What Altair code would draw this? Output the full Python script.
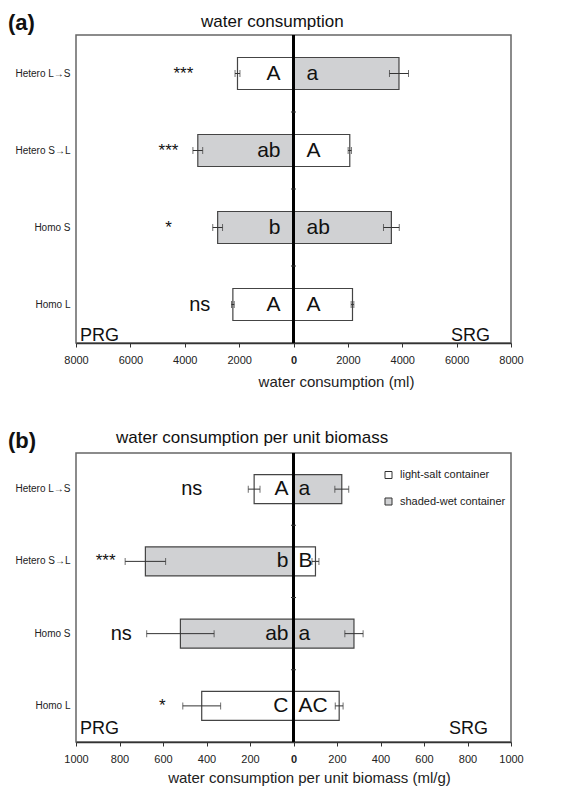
import altair as alt
import pandas as pd

FONT = "Liberation Sans"

groups = ["Hetero L→S", "Hetero S→L", "Homo S", "Homo L"]
containers = ["light-salt container", "shaded-wet container"]
prg_container = ["light-salt container", "shaded-wet container", "shaded-wet container", "light-salt container"]
srg_container = ["shaded-wet container", "light-salt container", "shaded-wet container", "light-salt container"]
sides = ["PRG", "SRG"]

# panel (a): water consumption (ml)
a_prg_mean = [2060, 3520, 2790, 2230]
a_prg_err = [90, 180, 180, 50]
a_srg_mean = [3880, 2070, 3600, 2170]
a_srg_err = [350, 60, 290, 50]
a_prg_letter = ["A", "ab", "b", "A"]
a_srg_letter = ["a", "A", "ab", "A"]
a_sig = ["***", "***", "*", "ns"]
a_sig_x = [4050, 4600, 4600, 3450]
a_ticks = [-8000, -6000, -4000, -2000, 0, 2000, 4000, 6000, 8000]

# panel (b): water consumption per unit biomass (ml/g)
b_prg_mean = [181, 681, 520, 422]
b_prg_err = [27, 93, 155, 87]
b_srg_mean = [222, 101, 278, 210]
b_srg_err = [32, 16, 42, 18]
b_prg_letter = ["A", "b", "ab", "C"]
b_srg_letter = ["a", "B", "a", "AC"]
b_sig = ["ns", "***", "ns", "*"]
b_sig_x = [468, 864, 792, 603]
b_ticks = [-1000, -800, -600, -400, -200, 0, 200, 400, 600, 800, 1000]


def long_table(pm, pe, sm, se, pl, sl):
    rows = []
    for i, g in enumerate(groups):
        rows.append(dict(group=g, side="PRG", value=-pm[i], lo=-(pm[i] + pe[i]),
                         hi=-(pm[i] - pe[i]), container=prg_container[i], letter=pl[i]))
        rows.append(dict(group=g, side="SRG", value=sm[i], lo=sm[i] - se[i],
                         hi=sm[i] + se[i], container=srg_container[i], letter=sl[i]))
    return pd.DataFrame(rows)


def sig_table(sig, sx):
    return pd.DataFrame({"group": groups, "sig": sig, "sig_x": [-v for v in sx]})


def panel(df, sdf, ticks, tag, title, title_x, title_y, xtitle, xtitle_x, xtitle_y,
          width, height, bar_size, letter_gap, side_y, srg_x, legend):
    xmax = max(ticks)
    step = height / len(groups)
    x_scale = alt.Scale(domain=[-xmax, xmax], nice=False, zero=False)
    x_axis = alt.Axis(
        values=ticks, labelExpr="format(abs(datum.value), 'd')", title=xtitle,
        grid=False, labelFlush=False, tickSize=4, tickColor="#333", tickWidth=1,
        domainColor="#333", domainWidth=1.5, labelFontSize=11, labelPadding=7,
        labelColor="#222",
        labelFontWeight=alt.condition("datum.value == 0", alt.value("bold"), alt.value("normal")),
        titleFontSize=15, titleFontWeight="normal", titleColor="#222",
        titleX=xtitle_x, titleY=xtitle_y, titleBaseline="alphabetic", titleAlign="center",
    )
    y_enc = alt.Y("group:N", sort=groups,
                  scale=alt.Scale(paddingInner=0, paddingOuter=0),
                  axis=alt.Axis(title=None, ticks=False, domain=False, labelFontSize=10,
                                labelPadding=6, labelColor="#222"))
    base = alt.Chart(df)
    if legend:
        leg = alt.Legend(title=None, orient="none", legendX=307, legendY=16.5,
                         symbolType="square", symbolSize=49, symbolStrokeColor="#333",
                         symbolStrokeWidth=1, labelFontSize=11, labelOffset=6,
                         rowPadding=14.5, labelColor="#222")
    else:
        leg = None
    bars = base.mark_bar(size=bar_size, stroke="#444", strokeWidth=1.2).encode(
        x=alt.X("value:Q", scale=x_scale, axis=x_axis),
        y=y_enc,
        fill=alt.Fill("container:N", scale=alt.Scale(domain=containers, range=["#ffffff", "#d0d1d3"]),
                      legend=leg),
    )
    err = base.mark_rule(color="#333", strokeWidth=1).encode(x="lo:Q", x2="hi:Q", y=y_enc)
    cap_lo = base.mark_tick(size=7, thickness=1, color="#333", orient="vertical").encode(x="lo:Q", y=y_enc)
    cap_hi = base.mark_tick(size=7, thickness=1, color="#333", orient="vertical").encode(x="hi:Q", y=y_enc)
    zero = base.mark_rule(color="black", strokeWidth=2).encode(x=alt.datum(0))
    bticks = base.transform_filter(
        (alt.datum.side == "SRG") & (alt.datum.group != groups[0])
    ).mark_rule(color="#333", strokeWidth=1, xOffset=-2.5, x2Offset=2.5, yOffset=-step / 2).encode(
        x=alt.datum(0), x2=alt.datum(0), y=y_enc)
    prg_l = base.transform_filter(alt.datum.side == "PRG").mark_text(
        align="right", baseline="middle", dx=-letter_gap, fontSize=21, color="#111").encode(
        x=alt.datum(0), y=y_enc, text="letter:N")
    srg_l = base.transform_filter(alt.datum.side == "SRG").mark_text(
        align="left", baseline="middle", dx=letter_gap, fontSize=21, color="#111").encode(
        x=alt.datum(0), y=y_enc, text="letter:N")
    sig = alt.Chart(sdf).mark_text(baseline="middle", color="#111").encode(
        x="sig_x:Q", y=y_enc, text="sig:N",
        size=alt.condition("datum.sig == 'ns'", alt.value(20), alt.value(17)))
    side_df = pd.DataFrame({"t": sides})
    prg_t = alt.Chart(side_df).transform_filter(alt.datum.t == "PRG").mark_text(
        align="left", baseline="alphabetic", fontSize=18, color="#111").encode(
        x=alt.value(4), y=alt.value(side_y), text="t:N")
    srg_t = alt.Chart(side_df).transform_filter(alt.datum.t == "SRG").mark_text(
        align="right", baseline="alphabetic", fontSize=18, color="#111").encode(
        x=alt.value(srg_x), y=alt.value(side_y), text="t:N")
    head_df = pd.DataFrame({"tag": [tag], "title": [title]})
    tag_t = alt.Chart(head_df).mark_text(
        align="left", baseline="alphabetic", fontSize=22, fontWeight="bold", color="#111").encode(
        x=alt.value(-68), y=alt.value(-5.3), text="tag:N")
    title_t = alt.Chart(head_df).mark_text(
        align="left", baseline="alphabetic", fontSize=17, color="#111").encode(
        x=alt.value(title_x), y=alt.value(title_y), text="title:N")
    return alt.layer(bars, err, cap_lo, cap_hi, zero, bticks, prg_l, srg_l, sig,
                     prg_t, srg_t, tag_t, title_t).properties(width=width, height=height)


df_a = long_table(a_prg_mean, a_prg_err, a_srg_mean, a_srg_err, a_prg_letter, a_srg_letter)
df_b = long_table(b_prg_mean, b_prg_err, b_srg_mean, b_srg_err, b_prg_letter, b_srg_letter)

pa = panel(df_a, sig_table(a_sig, a_sig_x), a_ticks, "(a)", "water consumption", 125, -8,
           "water consumption (ml)", 260, 43, 435, 308, 32, 13, 305.5, 414, False)
pb = panel(df_b, sig_table(b_sig, b_sig_x), b_ticks, "(b)", "water consumption per unit biomass", 40, -9.6,
           "water consumption per unit biomass (ml/g)", 233, 40, 435, 289, 29, 5, 281, 412, True)

chart = alt.vconcat(pa, pb, spacing=38).resolve_scale(
    x="independent", y="independent", fill="independent"
).resolve_legend(fill="independent").properties(
    padding={"left": 7, "top": 10, "right": 0, "bottom": 0}
).configure(font=FONT).configure_view(stroke="#666", strokeWidth=1.5)

chart.save("out.html", embed_options={"renderer": "svg", "actions": False})
